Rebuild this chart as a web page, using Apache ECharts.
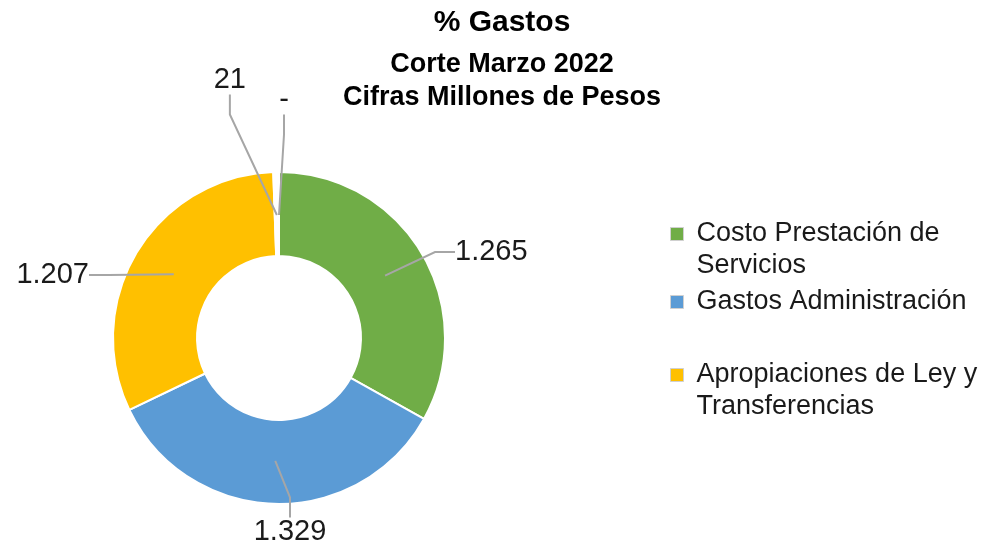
<!DOCTYPE html>
<html><head><meta charset="utf-8">
<script src="https://cdn.jsdelivr.net/npm/echarts@6/dist/echarts.min.js"></script>
<style>html,body{margin:0;padding:0;background:#fff}#c{width:994px;height:550px}</style>
</head><body><div id="c"></div>
<script>
const categories = ['Costo Prestación de Servicios','Gastos Administración','Apropiaciones de Ley y Transferencias','Otros','Otros 2'];
const values = [1265, 1329, 1207, 21, 0];
const labelsTxt = ['1.265','1.329','1.207','21','-'];
const colors = ['#70AD47','#5B9BD5','#FFC000','#FFFFFF','#FFFFFF'];
const legendNames = categories.slice(0,3);
const legendText = ['Costo Prestación de\nServicios','Gastos Administración','Apropiaciones de Ley y\nTransferencias'];

const cx = 279, cy = 338;
const font = 'Liberation Sans, Arial, sans-serif';
const data = categories.map((n,i)=>({name:n, value:values[i], itemStyle:{color:colors[i]}}));
const labelPos = [
  {x: cx+176, y: cy-86, align:'left'},
  {x: cx+11, y: cy+194, align:'center'},
  {x: cx-190, y: cy-63, align:'right'},
  {x: cx-33, y: cy-258, align:'right'},
  {x: cx+5, y: cy-238, align:'center'}
];
// tall icon with the visible square at the top, so the square sits on the first text line
const topIcon = 'path://M0,0h10v10h-10z M0,34.6h0.01v0.01h-0.01z';
const legendTops = [213, 281, 354];
const legends = legendNames.map((n,i)=>{
  const twoLine = legendText[i].indexOf('\n') >= 0;
  return {
    orient:'vertical', left:665, top:legendTops[i],
    itemWidth:13, itemHeight: twoLine ? 45 : 13,
    icon: twoLine ? topIcon : 'rect',
    data:[{name:n, itemStyle:{color:colors[i], borderColor:'#d0d0d0', borderWidth:1}}],
    formatter: () => legendText[i],
    selectedMode:false,
    textStyle:{fontFamily:font, fontSize:27, color:'#1a1a1a', lineHeight:32, padding:[0,0,0,8]}
  };
});
const chart = echarts.init(document.getElementById('c'));
chart.setOption({
  animation:false,
  title:{
    text:'% Gastos', subtext:'Corte Marzo 2022\nCifras Millones de Pesos',
    left:497, top:3, textAlign:'center', itemGap:10,
    textStyle:{fontFamily:font, fontSize:30, fontWeight:'bold', color:'#000'},
    subtextStyle:{fontFamily:font, fontSize:27, fontWeight:'bold', color:'#000', lineHeight:33}
  },
  legend: legends,
  series:[
    {
      type:'pie', center:[cx,cy], radius:[82,166], startAngle:90, clockwise:true,
      label:{show:false}, labelLine:{show:false}, silent:true,
      itemStyle:{borderColor:'#fff', borderWidth:2},
      data:data
    },
    {
      type:'pie', center:[cx,cy], radius:[0,123], startAngle:90, clockwise:true,
      silent:true, z:5,
      itemStyle:{color:'rgba(0,0,0,0)', borderWidth:0},
      emphasis:{disabled:true},
      label:{show:true, position:'outside', formatter: p => labelsTxt[p.dataIndex],
        fontFamily:font, fontSize:29, color:'#1a1a1a'},
      labelLine:{show:true, length:40, length2:20, lineStyle:{color:'#A6A6A6', width:2}},
      labelLayout: p => {
        const t = labelPos[p.dataIndex];
        return {x:t.x, y:t.y, align:t.align, verticalAlign:'middle'};
      },
      data:categories.map((n,i)=>({name:n, value:values[i]}))
    }
  ]
});
</script></body></html>
